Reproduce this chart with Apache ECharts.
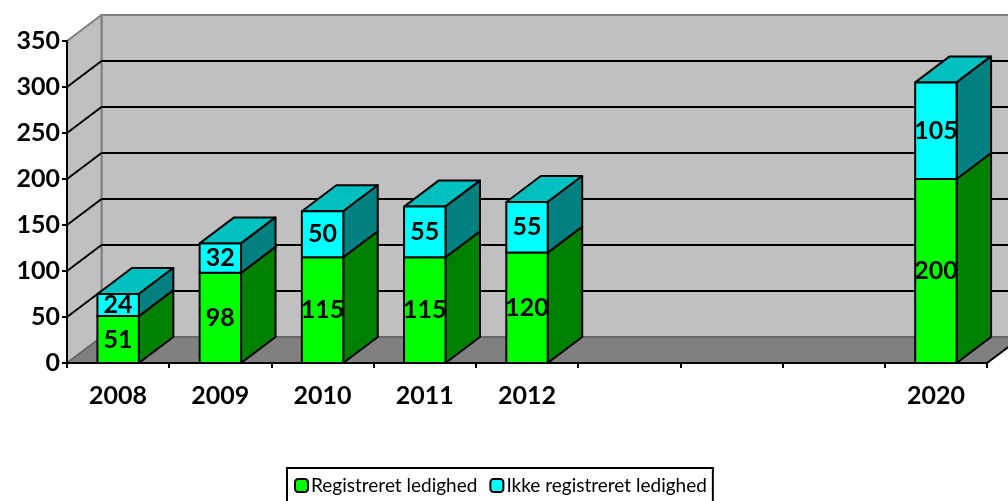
<!DOCTYPE html>
<html>
<head>
<meta charset="utf-8">
<style>
  html, body { margin: 0; padding: 0; background: #fff; overflow: hidden; }
  #chart { width: 1008px; height: 501px; }
</style>
<script src="https://cdn.jsdelivr.net/npm/echarts@6/dist/echarts.min.js"></script>
</head>
<body>
<div id="chart"></div>
<script>
// data
var years = ['2008', '2009', '2010', '2011', '2012', '', '', '', '2020'];
var registreret = [51, 98, 115, 115, 120, null, null, null, 200];
var ikkeRegistreret = [24, 32, 50, 55, 55, null, null, null, 105];
var yTicks = [0, 50, 100, 150, 200, 250, 300, 350];

var nameA = 'Registreret ledighed';
var nameB = 'Ikke registreret ledighed';

// 3d look: how far the back wall is shifted from the front plane
var depthX = 34.5;
var depthY = 26;
var fontName = 'Lato, "Noto Sans", sans-serif';

var chart = echarts.init(document.getElementById('chart'));

function poly(points, fill, stroke, width) {
  return {
    type: 'polygon',
    shape: { points: points },
    style: { fill: fill, stroke: stroke, lineWidth: width, lineJoin: 'round' }
  };
}

function line(x1, y1, x2, y2, stroke, width) {
  return {
    type: 'line',
    shape: { x1: x1, y1: y1, x2: x2, y2: y2 },
    style: { stroke: stroke, lineWidth: width }
  };
}

// back wall, side wall, floor and grid lines
function renderWalls(params, api) {
  var left = api.coord([0, 0])[0] - api.size([1, 0])[0] / 2;
  var right = api.coord([years.length - 1, 0])[0] + api.size([1, 0])[0] / 2;
  var y0 = api.coord([0, 0])[1];
  var yTop = api.coord([0, yTicks[yTicks.length - 1]])[1];
  var kids = [
    poly([[left + depthX, yTop - depthY], [right + depthX, yTop - depthY], [right + depthX, y0 - depthY], [left + depthX, y0 - depthY]], '#c0c0c0', '#808080', 2),
    poly([[left, yTop], [left + depthX, yTop - depthY], [left + depthX, y0 - depthY], [left, y0]], '#c0c0c0', '#808080', 2),
    poly([[left, y0], [left + depthX, y0 - depthY], [right + depthX, y0 - depthY], [right, y0]], '#808080', '#606060', 1.5),
    line(right, y0, right + depthX, y0 - depthY, '#000', 2)
  ];
  yTicks.forEach(function (t) {
    if (t === 0 || t === yTicks[yTicks.length - 1]) return;
    var y = api.coord([0, t])[1];
    kids.push(line(left, y, left + depthX, y - depthY, '#000', 2));
    kids.push(line(left + depthX, y - depthY, right + depthX, y - depthY, '#000', 2));
  });
  return { type: 'group', children: kids };
}

// one box of a stacked 3d column: [category, from, to, label]
function renderBox(front, top, side) {
  return function (params, api) {
    if (api.value(3) === '' || isNaN(api.value(2))) return null;
    var cat = api.value(0);
    var w = api.size([1, 0])[0] * 0.405;
    var cx = api.coord([cat, 0])[0];
    var x1 = cx - w / 2;
    var x2 = cx + w / 2;
    var yA = api.coord([cat, api.value(1)])[1];
    var yB = api.coord([cat, api.value(2)])[1];
    return {
      type: 'group',
      children: [
        poly([[x1, yB], [x2, yB], [x2 + depthX, yB - depthY], [x1 + depthX, yB - depthY]], top, '#000', 2),
        poly([[x2, yA], [x2 + depthX, yA - depthY], [x2 + depthX, yB - depthY], [x2, yB]], side, '#000', 2),
        poly([[x1, yA], [x2, yA], [x2, yB], [x1, yB]], front, '#000', 2),
        {
          type: 'text',
          z2: 10,
          style: {
            text: String(api.value(3)),
            x: cx,
            y: (yA + yB) / 2,
            align: 'center',
            verticalAlign: 'middle',
            fill: '#000',
            font: 'bold 25px ' + fontName
          }
        }
      ]
    };
  };
}

var lowerBoxes = years.map(function (y, i) {
  return [i, 0, registreret[i], registreret[i]];
}).filter(function (d) { return d[2] != null; });
var upperBoxes = years.map(function (y, i) {
  return [i, registreret[i], registreret[i] + ikkeRegistreret[i], ikkeRegistreret[i]];
}).filter(function (d) { return ikkeRegistreret[d[0]] != null; });

var option = {
  backgroundColor: '#fff',
  animation: false,
  grid: { left: 67, right: 21, top: 41, bottom: 138 },
  legend: {
    left: 287,
    top: 468,
    orient: 'horizontal',
    data: [nameA, nameB],
    backgroundColor: '#fff',
    borderColor: '#000',
    borderWidth: 2,
    padding: [8, 6, 14, 7],
    itemWidth: 13,
    itemHeight: 13,
    itemGap: 12,
    icon: 'roundRect',
    itemStyle: { borderColor: '#000', borderWidth: 2 },
    textStyle: { fontFamily: fontName, fontSize: 19, color: '#000', padding: [0, 0, 0, -2] }
  },
  xAxis: {
    type: 'category',
    data: years,
    z: 5,
    axisLine: { lineStyle: { color: '#000', width: 2 } },
    axisTick: { show: true, alignWithLabel: false, length: 5, lineStyle: { color: '#000', width: 2 } },
    axisLabel: { interval: 0, margin: 20, color: '#000', fontFamily: fontName, fontWeight: 'bold', fontSize: 25 },
    splitLine: { show: false }
  },
  yAxis: {
    type: 'value',
    min: 0,
    max: 350,
    interval: 50,
    z: 5,
    axisLine: { show: true, lineStyle: { color: '#000', width: 2 } },
    axisTick: { show: true, length: 5, lineStyle: { color: '#000', width: 2 } },
    axisLabel: { margin: 7, color: '#000', fontFamily: fontName, fontWeight: 'bold', fontSize: 25 },
    splitLine: { show: false }
  },
  series: [
    {
      name: 'walls',
      type: 'custom',
      z: 1,
      silent: true,
      clip: false,
      renderItem: renderWalls,
      data: [[0, 0]],
      encode: { x: 0, y: 1 }
    },
    {
      name: nameA,
      type: 'custom',
      z: 6,
      clip: false,
      itemStyle: { color: '#00ff00' },
      renderItem: renderBox('#00ff00', '#00c000', '#008000'),
      data: lowerBoxes,
      encode: { x: 0, y: [1, 2] }
    },
    {
      name: nameB,
      type: 'custom',
      z: 7,
      clip: false,
      itemStyle: { color: '#00ffff' },
      renderItem: renderBox('#00ffff', '#00c0c0', '#008080'),
      data: upperBoxes,
      encode: { x: 0, y: [1, 2] }
    }
  ]
};
chart.setOption(option);
</script>
</body>
</html>
